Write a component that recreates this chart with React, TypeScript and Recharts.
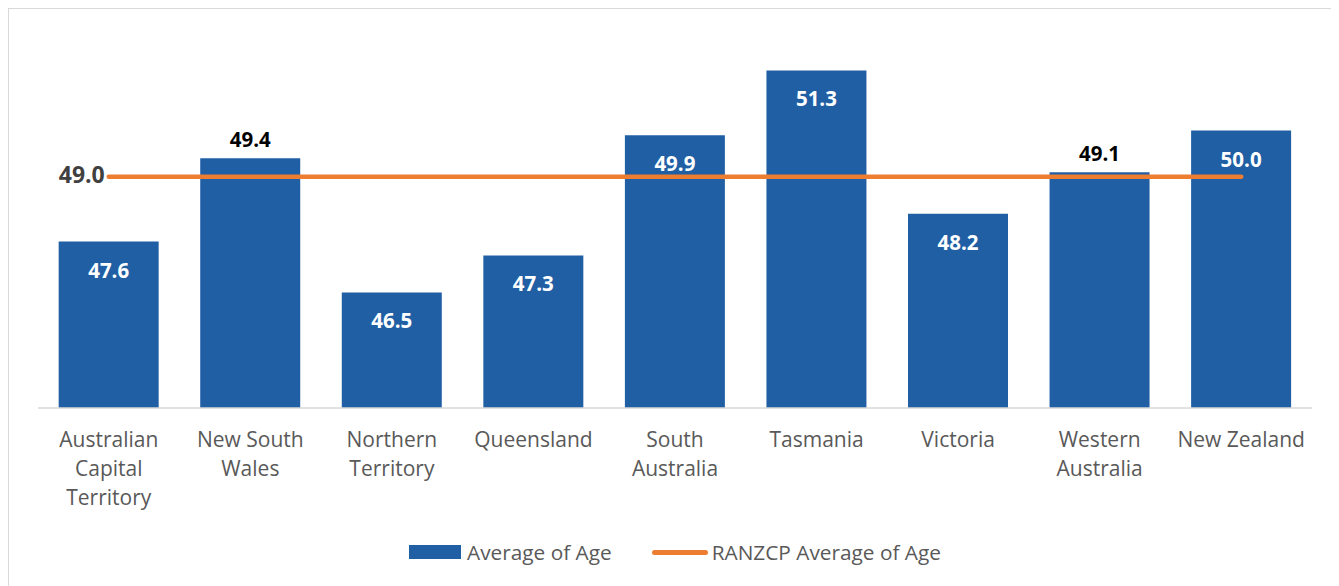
import React from "react";
import { Bar, ComposedChart, Line, XAxis, YAxis, Legend, LabelList } from "recharts";

const categories = [
  "Australian Capital Territory",
  "New South Wales",
  "Northern Territory",
  "Queensland",
  "South Australia",
  "Tasmania",
  "Victoria",
  "Western Australia",
  "New Zealand",
];

const tickLines = [
  ["Australian", "Capital", "Territory"],
  ["New South", "Wales"],
  ["Northern", "Territory"],
  ["Queensland"],
  ["South", "Australia"],
  ["Tasmania"],
  ["Victoria"],
  ["Western", "Australia"],
  ["New Zealand"],
];

const averageAge = [47.6, 49.4, 46.5, 47.3, 49.9, 51.3, 48.2, 49.1, 50.0];
const ranzcpAverage = [49.0, 49.0, 49.0, 49.0, 49.0, 49.0, 49.0, 49.0, 49.0];

const data = categories.map((name, i) => ({
  name,
  avg: averageAge[i],
  ranzcp: ranzcpAverage[i],
}));

const FONT = "'Open Sans', 'Noto Sans', sans-serif";
const BLUE = "#215FA5";
const ORANGE = "#ED7D31";

function CategoryTick(props: any) {
  const { x, y, payload } = props;
  const lines = tickLines[payload.index] || [payload.value];
  return (
    <text x={x} y={y} textAnchor="middle" fill="#595959" fontFamily={FONT} fontSize={21}>
      {lines.map((l, i) => (
        <tspan key={i} x={x} dy={i === 0 ? 31 : 29}>
          {l}
        </tspan>
      ))}
    </text>
  );
}

function BarValueLabel(props: any) {
  const { x, y, width, value } = props;
  const near = Math.abs(value - ranzcpAverage[0]) < 0.6;
  const cx = x + width / 2;
  return (
    <text
      x={cx}
      y={near ? y - 11 : y + 36}
      textAnchor="middle"
      fill={near ? "#000000" : "#ffffff"}
      fontFamily={FONT}
      fontWeight="bold"
      fontSize={20.5}
    >
      {value.toFixed(1)}
    </text>
  );
}

function LineStartLabel(props: any) {
  const { x, y, index, value } = props;
  if (index !== 0) return null;
  return (
    <text
      x={x - 4}
      y={y + 6}
      textAnchor="end"
      fill="#404040"
      fontFamily={FONT}
      fontWeight="bold"
      fontSize={23}
    >
      {value.toFixed(1)}
    </text>
  );
}

function ChartLegend() {
  return (
    <div
      style={{
        height: 30,
        display: "flex",
        justifyContent: "center",
        alignItems: "center",
        fontFamily: FONT,
        fontSize: 20.8,
        color: "#595959",
      }}
    >
      <span style={{ display: "inline-block", width: 52, height: 14, background: BLUE, marginRight: 6 }} />
      <span style={{ marginRight: 40 }}>Average of Age</span>
      <span
        style={{
          display: "inline-block",
          width: 56,
          height: 5,
          borderRadius: 3,
          background: ORANGE,
          marginRight: 4,
        }}
      />
      <span>RANZCP Average of Age</span>
    </div>
  );
}

export default function App() {
  return (
    <div
      style={{
        width: 1327,
        height: 590,
        border: "1.5px solid #d9d9d9",
        boxSizing: "border-box",
        background: "#fff",
        overflow: "hidden",
      }}
    >
      <ComposedChart
        width={1327}
        height={578}
        data={data}
        margin={{ top: 29, right: 24, left: 29, bottom: 20 }}
        barCategoryGap="14.6%"
      >
        <XAxis
          dataKey="name"
          interval={0}
          height={129}
          tickLine={false}
          axisLine={{ stroke: "#d9d9d9", strokeWidth: 1.5 }}
          tick={<CategoryTick />}
        />
        <YAxis hide domain={[44, 52]} />
        <Legend verticalAlign="bottom" content={<ChartLegend />} />
        <Bar dataKey="avg" name="Average of Age" fill={BLUE} isAnimationActive={false}>
          <LabelList dataKey="avg" content={<BarValueLabel />} />
        </Bar>
        <Line
          dataKey="ranzcp"
          name="RANZCP Average of Age"
          stroke={ORANGE}
          strokeWidth={4.5}
          strokeLinecap="round"
          dot={false}
          activeDot={false}
          isAnimationActive={false}
        >
          <LabelList dataKey="ranzcp" content={<LineStartLabel />} />
        </Line>
      </ComposedChart>
    </div>
  );
}
